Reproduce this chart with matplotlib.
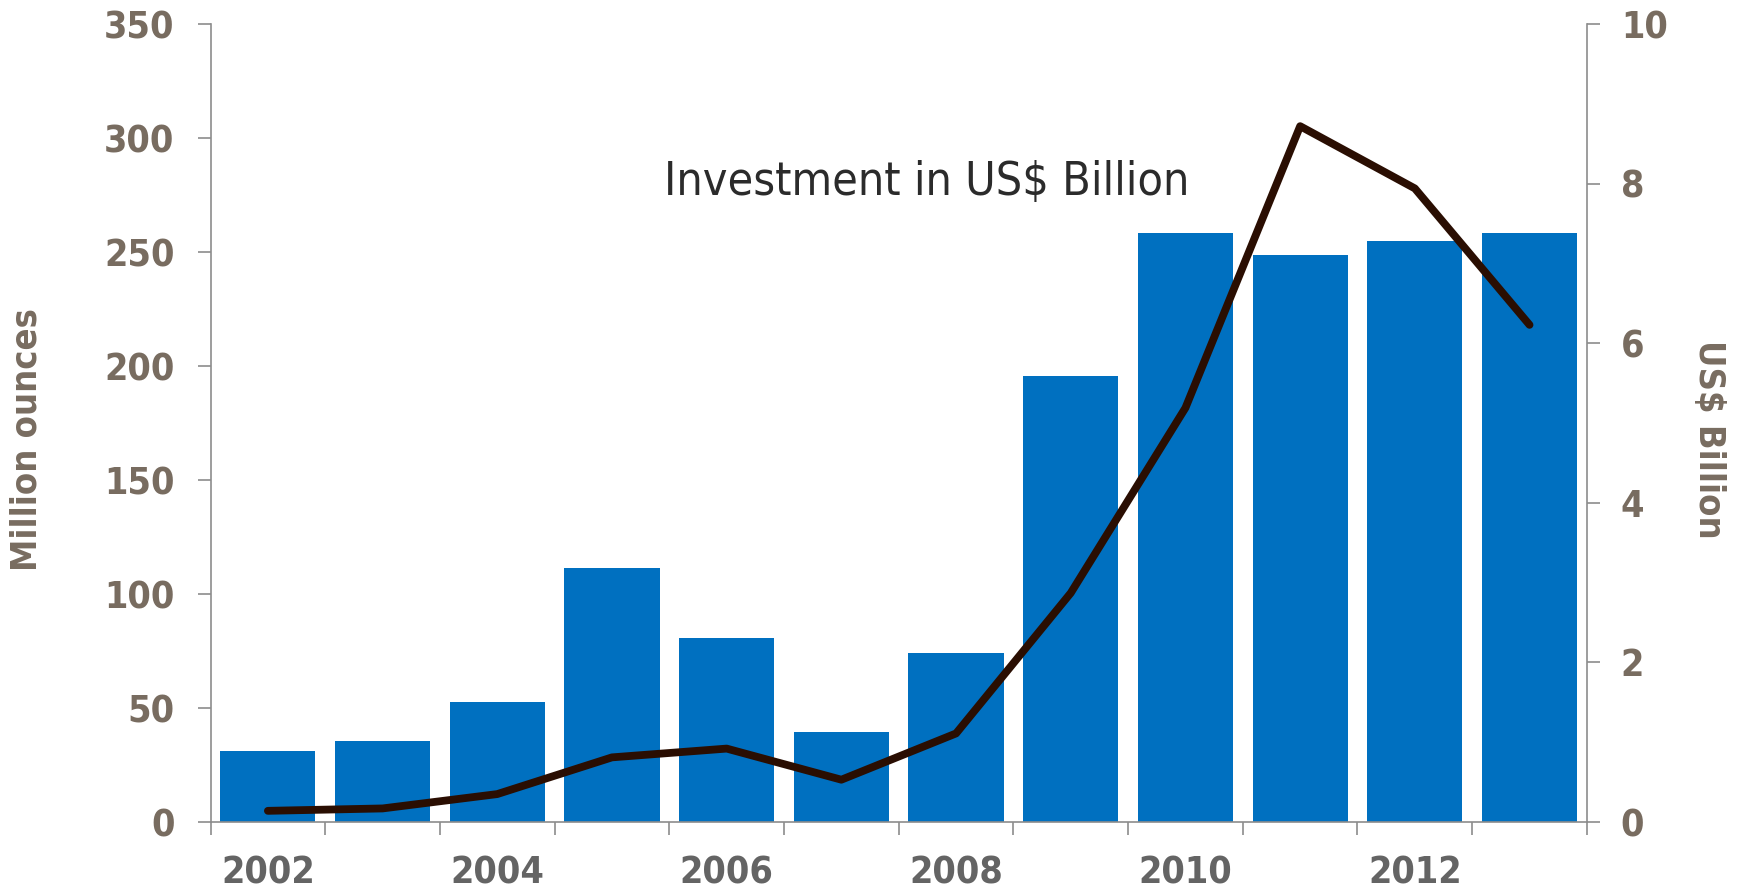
import matplotlib
matplotlib.use("Agg")
import matplotlib.pyplot as plt
import numpy as np

# silver investment demand (bars, left axis) and value (line, right axis)
years = [2002, 2003, 2004, 2005, 2006, 2007, 2008, 2009, 2010, 2011, 2012, 2013]
ounces = [31, 35.5, 52.5, 111.5, 80.5, 39.5, 74, 195.5, 258.5, 248.5, 255, 258.5]
usd_bn = [0.14, 0.17, 0.35, 0.81, 0.92, 0.53, 1.11, 2.87, 5.19, 8.72, 7.94, 6.23]

left_ticks = [0, 50, 100, 150, 200, 250, 300, 350]
right_ticks = [0, 2, 4, 6, 8, 10]
year_labels = ["2002", "2004", "2006", "2008", "2010", "2012"]

BLUE = "#0070C0"
LINE = "#2a0e02"
TICKCOL = "#786c60"
YEARCOL = "#646464"
AXCOL = "#8c8c8c"

COND = dict(family="DejaVu Sans", fontstretch="condensed", fontweight="bold")

fig = plt.figure(figsize=(17.4, 8.9), dpi=100)
ax = fig.add_axes([0.121, 0.0764, 0.791, 0.8966])
ax2 = ax.twinx()

x = np.arange(len(years))
ax.bar(x, ounces, width=0.83, color=BLUE, zorder=2)
ax2.plot(x, usd_bn, color=LINE, linewidth=5.6, solid_capstyle="round",
         solid_joinstyle="round", zorder=3)

ax.set_xlim(-0.5, len(years) - 0.5)
ax.set_ylim(0, 350)
ax2.set_ylim(0, 10)

# tick marks on category boundaries, year labels under every other bar
ax.set_xticks(np.arange(-0.5, len(years), 1.0))
ax.set_xticklabels([])
ax.set_xticks(x[::2], minor=True)
ax.set_xticklabels(year_labels, minor=True, fontsize=27, color=YEARCOL, **COND)
ax.tick_params(axis="x", which="major", length=9.4, width=1.2, color=AXCOL, direction="out")
ax.tick_params(axis="x", which="minor", length=0, pad=24)

ax.set_yticks(left_ticks)
ax.set_yticklabels([str(v) for v in left_ticks], fontsize=27, color=TICKCOL, **COND)
ax.tick_params(axis="y", length=9.4, width=1.2, color=AXCOL, pad=16.5)

ax2.set_yticks(right_ticks)
ax2.set_yticklabels([str(v) for v in right_ticks], fontsize=27, color=TICKCOL, **COND)
ax2.tick_params(axis="y", length=9.4, width=1.2, color=AXCOL, pad=15)

for a in (ax, ax2):
    a.spines["top"].set_visible(False)
    for s in ("left", "right", "bottom"):
        a.spines[s].set_color(AXCOL)
        a.spines[s].set_linewidth(1.2)
ax.spines["right"].set_visible(False)
ax2.spines["left"].set_visible(False)
ax2.spines["bottom"].set_visible(False)

ax.set_ylabel("Million ounces", fontsize=26, color=TICKCOL, va="center", **COND)
ax.yaxis.set_label_coords(-0.134, 0.479)
ax2.set_ylabel("US$ Billion", fontsize=26, color=TICKCOL, rotation=270,
               va="center", **COND)
ax2.yaxis.set_label_coords(1.0886, 0.48)

ax.text(0.52, 0.802, "Investment in US$ Billion", transform=ax.transAxes,
        ha="center", va="center", fontsize=33.5, color="#2b2b2b",
        family="DejaVu Sans", fontstretch="condensed")

fig.savefig("out.png", dpi=100)
